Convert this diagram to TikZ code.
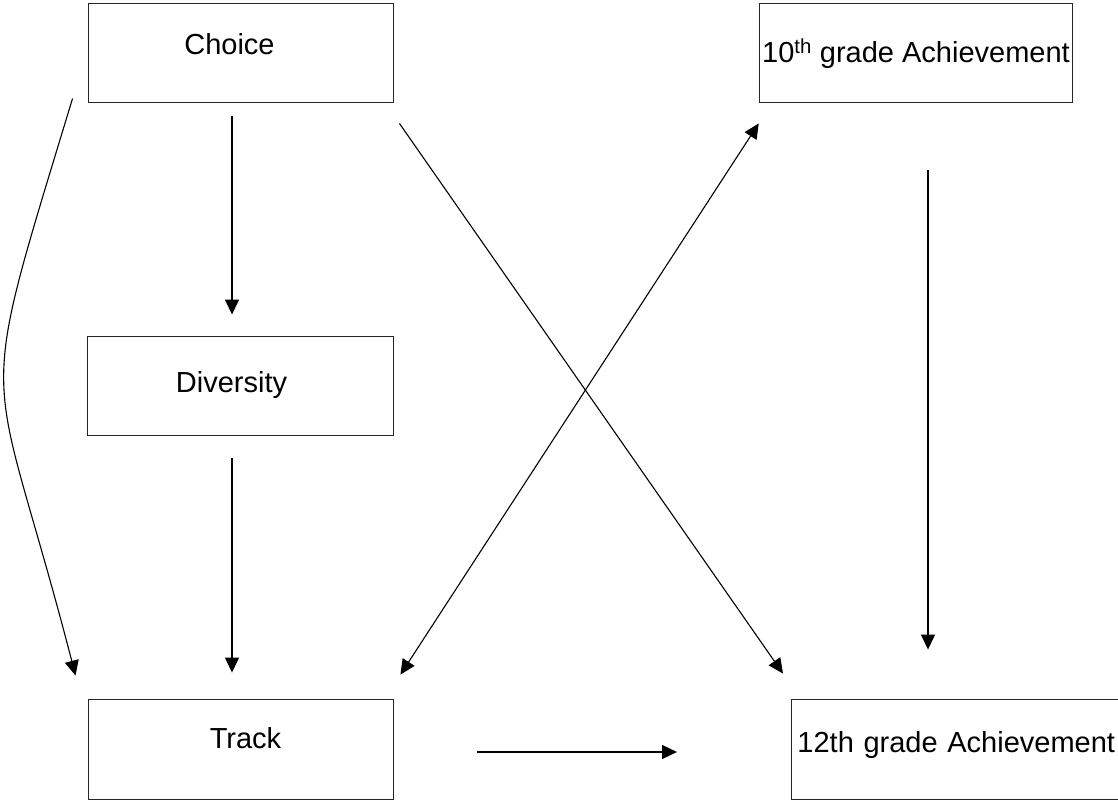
\documentclass[tikz,border=0pt]{standalone}
\usepackage{fontspec}
\usepackage{tikz}
\usetikzlibrary{arrows.meta,positioning,calc}
\newfontfamily\boxfont{Liberation Sans}

\begin{document}
\begin{tikzpicture}[
  x=1pt, y=-1pt,
  box/.style={draw=black!85, line width=0.9pt, minimum width=305pt, minimum height=99pt, inner sep=3pt, text height=21pt, font=\boxfont\fontsize{29}{34}\selectfont},
  arrow/.style={-{Triangle[length=15pt, width=14pt]}, line width=1.1pt},
  twoway/.style={{Triangle[length=15pt, width=14pt]}-{Triangle[length=15pt, width=14pt]}, line width=1.1pt}
]
\useasboundingbox (0,0) rectangle (1118,800);

\node[box, text depth=16pt] (choice) at (240.5,52.5) {Choice\hspace*{22pt}};
\node[box, minimum width=312pt, text depth=0pt] (tenth) at (916,52.5) {10\textsuperscript{th} grade Achievement};
\node[box, minimum width=306pt, text depth=8pt] (diversity) at (240,385.5) {Diversity\hspace*{17pt}};
\node[box, minimum height=100pt, text depth=23pt] (track) at (240.5,749) {\hspace*{10pt}Track};
\node[box, anchor=west, minimum width=340pt, minimum height=100pt, text depth=15pt, text width=328pt, inner xsep=6pt, align=left] (twelfth) at (791,749) {12th grade Achievement};

% free ends of the connectors
\coordinate (chL) at ([shift={(-15,-4)}]choice.south west);
\coordinate (trL) at ([shift={(-12,-23)}]track.north west);
\coordinate (chR) at ([shift={(6,21)}]choice.south east);
\coordinate (twA) at ([shift={(-8,-25)}]twelfth.north west);
\coordinate (teL) at ([shift={(0,21)}]tenth.south west);
\coordinate (trR) at ([shift={(7,-24)}]track.north east);
\coordinate (teB) at ([shift={(12,68)}]tenth.south);
\coordinate (twB) at ([shift={(137,-49)}]twelfth.north west);

\draw[arrow] ([shift={(-8.5,14)}]choice.south) -- ([shift={(-8,-21)}]diversity.north);
\draw[arrow] ([shift={(-8,23)}]diversity.south) -- ([shift={(-8.5,-26)}]track.north);
\draw[arrow] (chL) .. controls (-28,430) and (-10,345) .. (trL);
\draw[arrow] (chR) -- (twA);
\draw[twoway] (trR) -- (teL);
\draw[arrow] (teB) -- (twB);
\draw[arrow] ([shift={(84,3)}]track.east) -- ([shift={(-114,3)}]twelfth.west);

\end{tikzpicture}
\end{document}
